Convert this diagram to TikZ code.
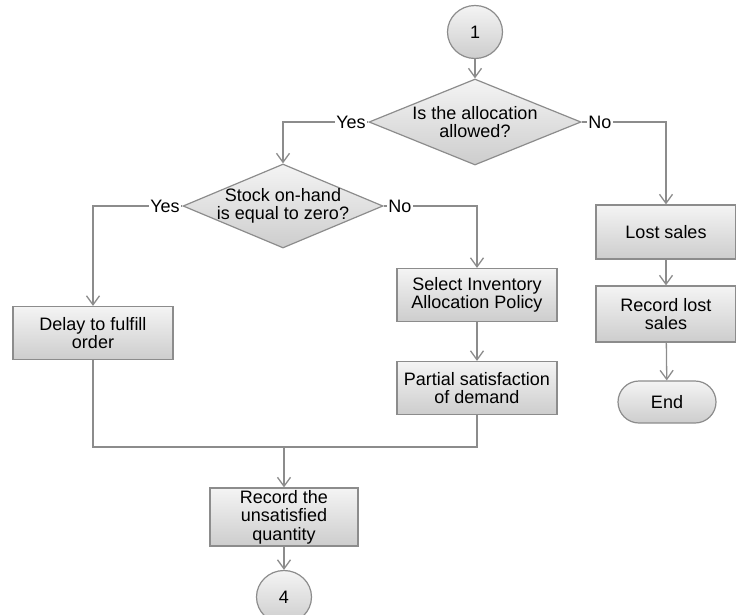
\documentclass[tikz,border=0pt]{standalone}
\usepackage{fontspec}
\setmainfont{Liberation Sans}
\usepackage{tikz}
\usetikzlibrary{shapes.geometric,arrows.meta,positioning,calc}
\definecolor{lineGray}{HTML}{8C8C8C}
\definecolor{shadeTop}{HTML}{F4F4F4}
\definecolor{shadeBot}{HTML}{CDCDCD}

\begin{document}
\begin{tikzpicture}[
      x=1pt, y=-1pt,
      every node/.style={font=\fontsize{18}{18.5}\selectfont, text=black},
      procbox/.style={
        rectangle, draw=lineGray, line width=1.2pt, top color=shadeTop, bottom color=shadeBot,
        align=center, inner sep=0pt, minimum width=160pt, minimum height=53pt
      },
      decision/.style={
        diamond, draw=lineGray, line width=1.2pt, top color=shadeTop, bottom color=shadeBot,
        inner sep=0pt, minimum width=212pt, minimum height=86pt, aspect=2.4
      },
      connector/.style={
        ellipse, draw=lineGray, line width=1.2pt, top color=shadeTop, bottom color=shadeBot,
        inner sep=0pt, minimum width=55pt, minimum height=53pt
      },
      terminal/.style={
        rectangle, rounded corners=21pt, draw=lineGray, line width=1.2pt, top color=shadeTop,
        bottom color=shadeBot, inner sep=0pt, minimum width=98pt, minimum height=42pt
      },
      dtext/.style={align=center, inner sep=0pt},
      answer/.style={fill=white, inner sep=1.5pt},
      flowline/.style={draw=lineGray, line width=1.3pt},
      flowarr/.style={flowline, -{Straight Barb[length=9pt,width=13pt,line width=1.3pt]}}
    ]
      \useasboundingbox (0,0) rectangle (736,614);

      % top branch
      \node[connector] (c1) at (475,32) {1};
      \node[decision] (q1) at (475,122) {};
      \node[dtext] (q1txt) at (q1) {Is the allocation\\allowed?};
      \node[decision, minimum width=200pt, minimum height=84pt] (q2) at (283,206) {};
      \node[dtext] (q2txt) at (q2) {Stock on-hand\\is equal to zero?};

      % lost sales column
      \node[procbox, minimum width=140pt, minimum height=54pt] (lost) at (666,232) {Lost sales};
      \node[procbox, minimum width=140pt, minimum height=56pt] (reclost) at (666,314) {Record lost\\sales};
      \node[terminal] (endn) at (667,402) {End};

      % allocation column
      \node[procbox] (delay) at (93,333) {Delay to fulfill\\order};
      \node[procbox] (select) at (477,295) {Select Inventory\\Allocation Policy};
      \node[procbox] (partial) at (477,388) {Partial satisfaction\\of demand};
      \coordinate (join) at (284,447);
      \node[procbox, minimum width=148pt, minimum height=58pt] (record) at (284,517) {Record the\\unsatisfied\\quantity};
      \node[connector] (c4) at (284,597) {4};

      \draw[flowarr] (c1) -- (q1.north);
      \draw[flowarr] (q1.west) -| (q2.north);
      \draw[flowarr] (q1.east) -| (lost.north);
      \draw[flowarr] (q2.west) -| (delay.north);
      \draw[flowarr] (q2.east) -| (select.north);
      \draw[flowarr] (select) -- (partial);
      \draw[flowarr] (lost) -- (reclost);
      \draw[flowarr] (reclost) -- (endn);
      \draw[flowline] (delay.south) |- (partial.south |- join) -- (partial.south);
      \draw[flowarr] (join) -- (record.north);
      \draw[flowarr] (record) -- (c4);

      % answer labels
      \node[answer, anchor=east] (q1yes) at ([xshift=-1pt]q1.west) {Yes};
      \node[answer, anchor=west] (q1no) at ([xshift=5pt]q1.east) {No};
      \node[answer, anchor=east] (q2yes) at ([xshift=-1pt]q2.west) {Yes};
      \node[answer, anchor=west] (q2no) at ([xshift=3pt]q2.east) {No};
    \end{tikzpicture}
\end{document}
